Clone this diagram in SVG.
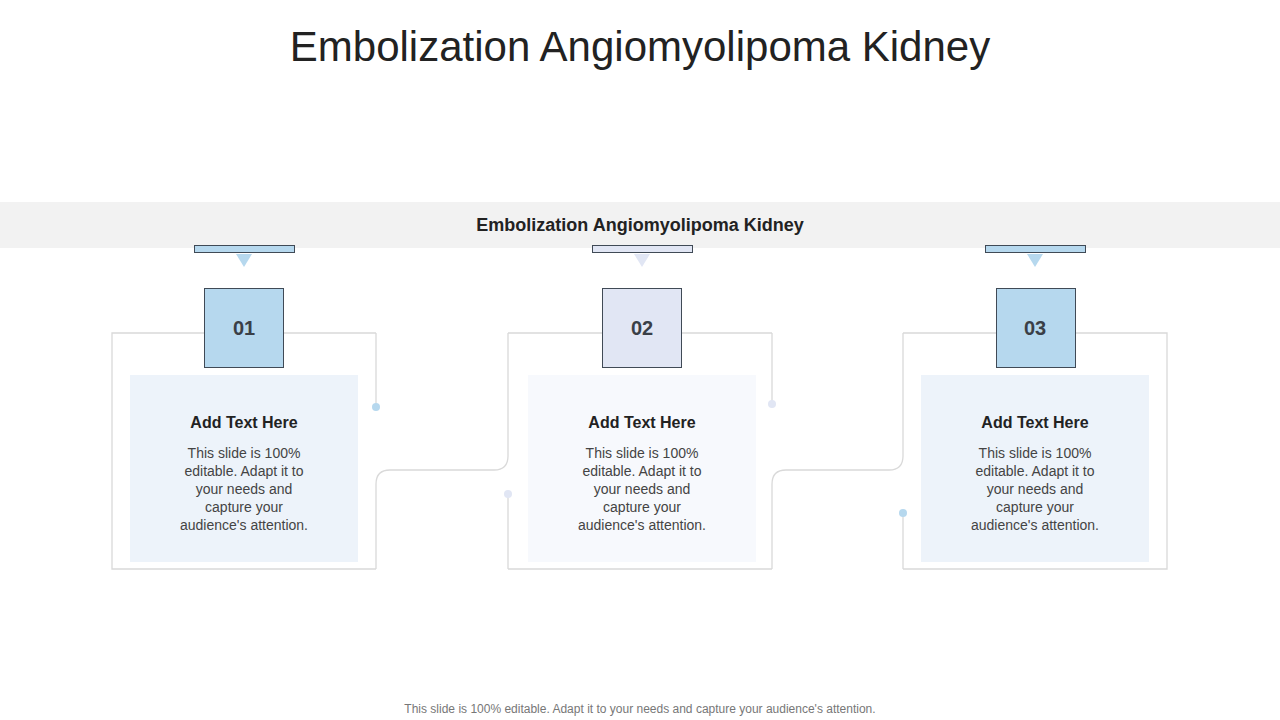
<svg xmlns="http://www.w3.org/2000/svg" width="1280" height="720" viewBox="0 0 1280 720">
<style>
.t{font-family:"Liberation Sans",Arial,sans-serif;text-anchor:middle}
.fr{fill:none;stroke:#d9d9d9;stroke-width:1.3}
.sq{stroke:#404a56;stroke-width:1}
.num{font-size:20px;font-weight:bold;fill:#3a3f47}
.h{font-size:16px;font-weight:bold;fill:#222}
.b{font-size:14px;fill:#444}
</style>
<rect width="1280" height="720" fill="#fff"/>
<text class="t" x="640" y="61" font-size="42" fill="#222">Embolization Angiomyolipoma Kidney</text>
<rect x="0" y="202" width="1280" height="46" fill="#f2f2f2"/>
<text class="t" x="640" y="231" font-size="18" font-weight="bold" fill="#222">Embolization Angiomyolipoma Kidney</text>
<g id="connectors" class="fr">
<path d="M376 333V407"/>
<path d="M376 569V484Q376 470 390 470H494Q508 470 508 456V333"/>
<path d="M508 494V569"/>
<path d="M772 333V404"/>
<path d="M772 569V484Q772 470 786 470H889Q903 470 903 456V333"/>
<path d="M903 513V569"/>
<circle cx="376" cy="407" r="4" fill="#b6d8ee" stroke="none"/>
<circle cx="508" cy="494" r="4" fill="#e1e6f4" stroke="none"/>
<circle cx="772" cy="404" r="4" fill="#e1e6f4" stroke="none"/>
<circle cx="903" cy="513" r="4" fill="#b6d8ee" stroke="none"/>
</g>
<g id="node1">
<path class="fr" d="M204 333H112V569H376M284 333H376"/>
<rect x="130" y="375" width="228" height="187" fill="#edf3fa"/>
<rect class="sq" x="194.5" y="245.5" width="100" height="7" fill="#b6d8ee"/>
<polygon points="236,254 252,254 244,267" fill="#b6d8ee"/>
<rect class="sq" x="204.5" y="288.5" width="79" height="79" fill="#b6d8ee"/>
<text class="t num" x="244" y="335">01</text>
<text class="t h" x="244" y="428">Add Text Here</text>
<text class="t b" x="244" y="458">This slide is 100%<tspan x="244" dy="18">editable. Adapt it to</tspan><tspan x="244" dy="18">your needs and</tspan><tspan x="244" dy="18">capture your</tspan><tspan x="244" dy="18">audience's attention.</tspan></text>
</g>
<g id="node2">
<path class="fr" d="M602 333H508M508 569H772M682 333H772"/>
<rect x="528" y="375" width="228" height="187" fill="#f7f9fd"/>
<rect class="sq" x="592.5" y="245.5" width="100" height="7" fill="#e1e6f4"/>
<polygon points="634,254 650,254 642,267" fill="#e1e6f4"/>
<rect class="sq" x="602.5" y="288.5" width="79" height="79" fill="#e1e6f4"/>
<text class="t num" x="642" y="335">02</text>
<text class="t h" x="642" y="428">Add Text Here</text>
<text class="t b" x="642" y="458">This slide is 100%<tspan x="642" dy="18">editable. Adapt it to</tspan><tspan x="642" dy="18">your needs and</tspan><tspan x="642" dy="18">capture your</tspan><tspan x="642" dy="18">audience's attention.</tspan></text>
</g>
<g id="node3">
<path class="fr" d="M996 333H903M903 569H1167V333H1076"/>
<rect x="921" y="375" width="228" height="187" fill="#edf3fa"/>
<rect class="sq" x="985.5" y="245.5" width="100" height="7" fill="#b6d8ee"/>
<polygon points="1027,254 1043,254 1035,267" fill="#b6d8ee"/>
<rect class="sq" x="996.5" y="288.5" width="79" height="79" fill="#b6d8ee"/>
<text class="t num" x="1035" y="335">03</text>
<text class="t h" x="1035" y="428">Add Text Here</text>
<text class="t b" x="1035" y="458">This slide is 100%<tspan x="1035" dy="18">editable. Adapt it to</tspan><tspan x="1035" dy="18">your needs and</tspan><tspan x="1035" dy="18">capture your</tspan><tspan x="1035" dy="18">audience's attention.</tspan></text>
</g>
<text class="t" x="640" y="713" font-size="12" fill="#777">This slide is 100% editable. Adapt it to your needs and capture your audience's attention.</text>
</svg>
